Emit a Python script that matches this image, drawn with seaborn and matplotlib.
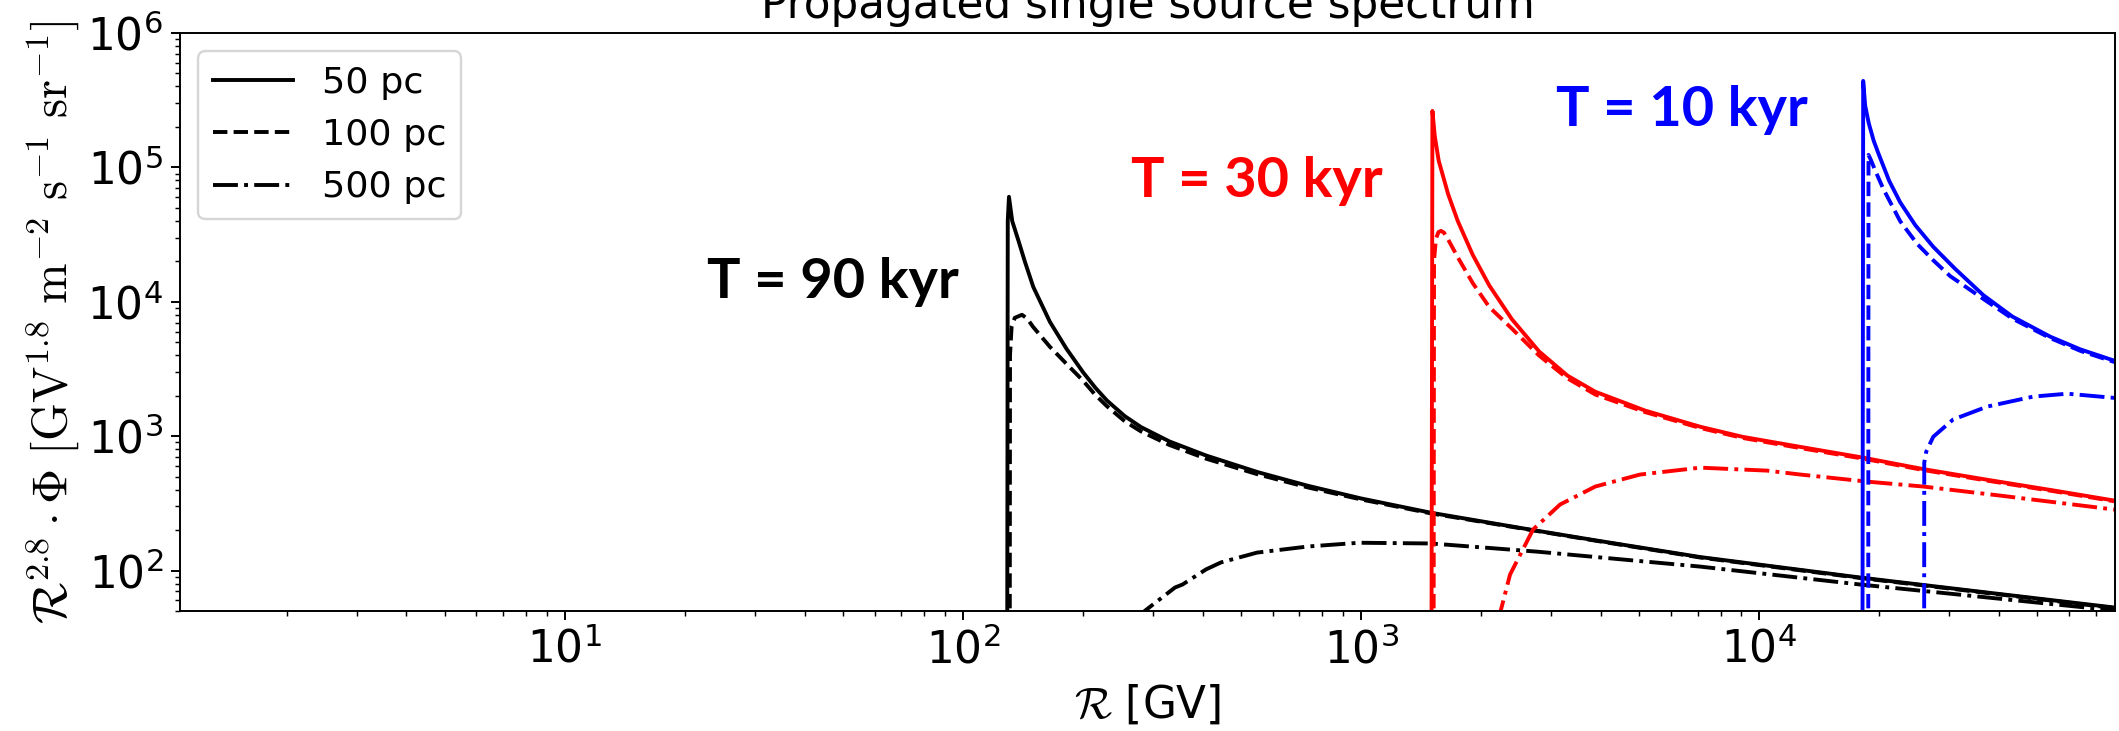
import matplotlib
matplotlib.use("Agg")
import matplotlib.pyplot as plt
from matplotlib.lines import Line2D
import pandas as pd
import seaborn as sns

# Rigidity R [GV] and weighted flux R^2.8 * Phi for a single burst source,
# for three source ages (T) and three distances.

# T = 90 kyr
r_90_50 = [129.0, 129.6, 130.5, 133.0, 137.7, 143.0, 150.2, 165.4, 182.0, 200.4, 215.0,
           230.0, 255.0, 280.0, 330.0, 408.0, 550.0, 736.0, 1000.0, 1500.0, 2706.0,
           3870.0, 7110.0, 17950.0, 40000.0, 78300.0]
f_90_50 = [1.0, 40000.0, 60400.0, 39800.0, 28800.0, 20000.0, 12900.0, 7080.0, 4470.0,
           2985.0, 2296.0, 1841.0, 1409.0, 1169.0, 914.0, 718.0, 540.0, 427.0, 344.0,
           269.0, 200.0, 168.0, 126.0, 88.7, 67.0, 53.0]

r_90_100 = [131.0, 131.3, 132.5, 135.0, 140.7, 145.0, 150.0, 165.4, 182.0, 200.0, 215.0,
            230.0, 255.0, 280.0, 330.0, 408.0, 550.0, 736.0, 1000.0, 1500.0, 2706.0,
            3870.0, 7110.0, 17950.0, 40000.0, 78300.0]
f_90_100 = [1.0, 4000.0, 6500.0, 7600.0, 8000.0, 7500.0, 6510.0, 4620.0, 3450.0, 2600.0,
            2030.0, 1670.0, 1290.0, 1085.0, 860.0, 680.0, 520.0, 415.0, 338.0, 266.0,
            199.0, 167.0, 125.0, 88.0, 66.5, 52.5]

r_90_500 = [278.0, 286.0, 341.0, 356.0, 408.0, 445.0, 548.0, 736.0, 989.0, 1500.0, 2786.0,
            7110.0, 17950.0, 66400.0, 78300.0]
f_90_500 = [40.0, 50.0, 74.8, 78.7, 102.0, 115.0, 136.0, 151.0, 161.0, 159.0, 138.0,
            107.0, 78.7, 53.0, 51.0]

# T = 30 kyr
r_30_50 = [1500.0, 1511.0, 1532.0, 1567.0, 1655.0, 1750.0, 1907.0, 2100.0, 2393.0,
           2800.0, 3300.0, 3877.0, 5170.0, 7110.0, 9080.0, 12690.0, 18250.0, 25800.0,
           37500.0, 55000.0, 78300.0]
f_30_50 = [1.0, 263000.0, 170000.0, 112000.0, 63100.0, 39800.0, 22400.0, 13200.0, 7410.0,
           4270.0, 2820.0, 2140.0, 1550.0, 1175.0, 989.0, 832.0, 692.0, 569.0, 473.0,
           394.0, 331.0]

r_30_100 = [1520.0, 1525.0, 1542.0, 1565.0, 1588.0, 1615.0, 1650.0, 1750.0, 1907.0,
            2100.0, 2393.0, 2800.0, 3300.0, 3877.0, 5170.0, 7110.0, 9080.0, 12690.0,
            18250.0, 25800.0, 37500.0, 55000.0, 78300.0]
f_30_100 = [1.0, 20000.0, 29500.0, 33000.0, 33700.0, 32700.0, 29500.0, 21400.0, 13800.0,
            9120.0, 6310.0, 3980.0, 2690.0, 2040.0, 1510.0, 1150.0, 970.0, 815.0, 680.0,
            560.0, 466.0, 389.0, 327.0]

r_30_500 = [2197.0, 2367.0, 2704.0, 3162.0, 3877.0, 5020.0, 7110.0, 10470.0, 12690.0,
            18660.0, 25800.0, 40350.0, 78300.0]
f_30_500 = [39.6, 93.3, 202.0, 310.0, 422.0, 518.0, 583.0, 554.0, 518.0, 459.0, 422.0,
            361.0, 284.0]

# T = 10 kyr
r_10_50 = [18150.0, 18250.0, 18460.0, 18840.0, 19390.0, 19950.0, 21210.0, 22600.0,
           24660.0, 27350.0, 31050.0, 36560.0, 43250.0, 53830.0, 64120.0, 78300.0]
f_10_50 = [1.0, 440000.0, 288000.0, 214000.0, 158000.0, 126000.0, 79400.0, 55000.0,
           37200.0, 25700.0, 17600.0, 11200.0, 7760.0, 5500.0, 4420.0, 3630.0]

r_10_100 = [18780.0, 18820.0, 19050.0, 19610.0, 20500.0, 22600.0, 24950.0, 27350.0,
            30200.0, 36560.0, 43250.0, 53830.0, 64120.0, 78300.0]
f_10_100 = [1.0, 123900.0, 114800.0, 93300.0, 69200.0, 39800.0, 26900.0, 20400.0,
            15500.0, 10500.0, 7500.0, 5370.0, 4310.0, 3550.0]

r_10_500 = [25950.0, 25980.0, 26280.0, 27370.0, 30700.0, 37400.0, 48800.0, 59400.0,
            78300.0]
f_10_500 = [1.0, 635.0, 767.0, 990.0, 1330.0, 1660.0, 1970.0, 2070.0, 1925.0]

ages = ["90 kyr", "30 kyr", "10 kyr"]
distances = ["50 pc", "100 pc", "500 pc"]
age_colors = ["black", "red", "blue"]

series = [
    ("90 kyr", "50 pc", r_90_50, f_90_50),
    ("90 kyr", "100 pc", r_90_100, f_90_100),
    ("90 kyr", "500 pc", r_90_500, f_90_500),
    ("30 kyr", "50 pc", r_30_50, f_30_50),
    ("30 kyr", "100 pc", r_30_100, f_30_100),
    ("30 kyr", "500 pc", r_30_500, f_30_500),
    ("10 kyr", "50 pc", r_10_50, f_10_50),
    ("10 kyr", "100 pc", r_10_100, f_10_100),
    ("10 kyr", "500 pc", r_10_500, f_10_500),
]
df = pd.concat(
    [pd.DataFrame({"R": r, "flux": f, "age": a, "distance": d}) for a, d, r, f in series],
    ignore_index=True,
)

plt.rcParams["mathtext.fontset"] = "cm"
plt.rcParams["font.family"] = "DejaVu Sans"

dpi = 175
fig = plt.figure(figsize=(2119 / dpi, 731 / dpi), dpi=dpi)
ax = fig.add_axes([180 / 2119, 1 - 611 / 731, 1935 / 2119, 578 / 731])

dash_map = {"50 pc": "", "100 pc": (3.7, 1.6), "500 pc": (6.4, 1.6, 1.0, 1.6)}
sns.lineplot(
    data=df, x="R", y="flux", hue="age", style="distance",
    hue_order=ages, style_order=distances,
    palette=dict(zip(ages, age_colors)), dashes=dash_map,
    estimator=None, sort=False, linewidth=1.6, legend=False, ax=ax,
)

ax.set_xscale("log")
ax.set_yscale("log")
ax.set_xlim(1.08, 7.83e4)
ax.set_ylim(50, 1e6)
ax.tick_params(axis="both", which="major", labelsize=18)

ax.set_xlabel(r"$\mathcal{R}$ [GV]", fontsize=18)
ax.set_ylabel(r"$\mathcal{R}^{2.8} \cdot \Phi\ [\mathrm{GV}^{1.8}\ \mathrm{m}^{-2}\ "
              r"\mathrm{s}^{-1}\ \mathrm{sr}^{-1}]$", fontsize=20, labelpad=2)
ax.set_title("Propagated single source spectrum", fontsize=18, pad=6)

handles = [Line2D([], [], color="black", lw=1.6, dashes=dash_map[d]) if dash_map[d]
           else Line2D([], [], color="black", lw=1.6, linestyle="-") for d in distances]
ax.legend(handles, distances, loc="upper left", fontsize=15, handlelength=2.2)

label_style = dict(transform=ax.transAxes, fontsize=23, fontweight="bold",
                   family="Lato", ha="left", va="baseline")
ax.text(0.2724, 0.5415, "T = 90 kyr", color="black", **label_style)
ax.text(0.4915, 0.7163, "T = 30 kyr", color="red", **label_style)
ax.text(0.7111, 0.8391, "T = 10 kyr", color="blue", **label_style)

fig.savefig("out.png", dpi=dpi)
